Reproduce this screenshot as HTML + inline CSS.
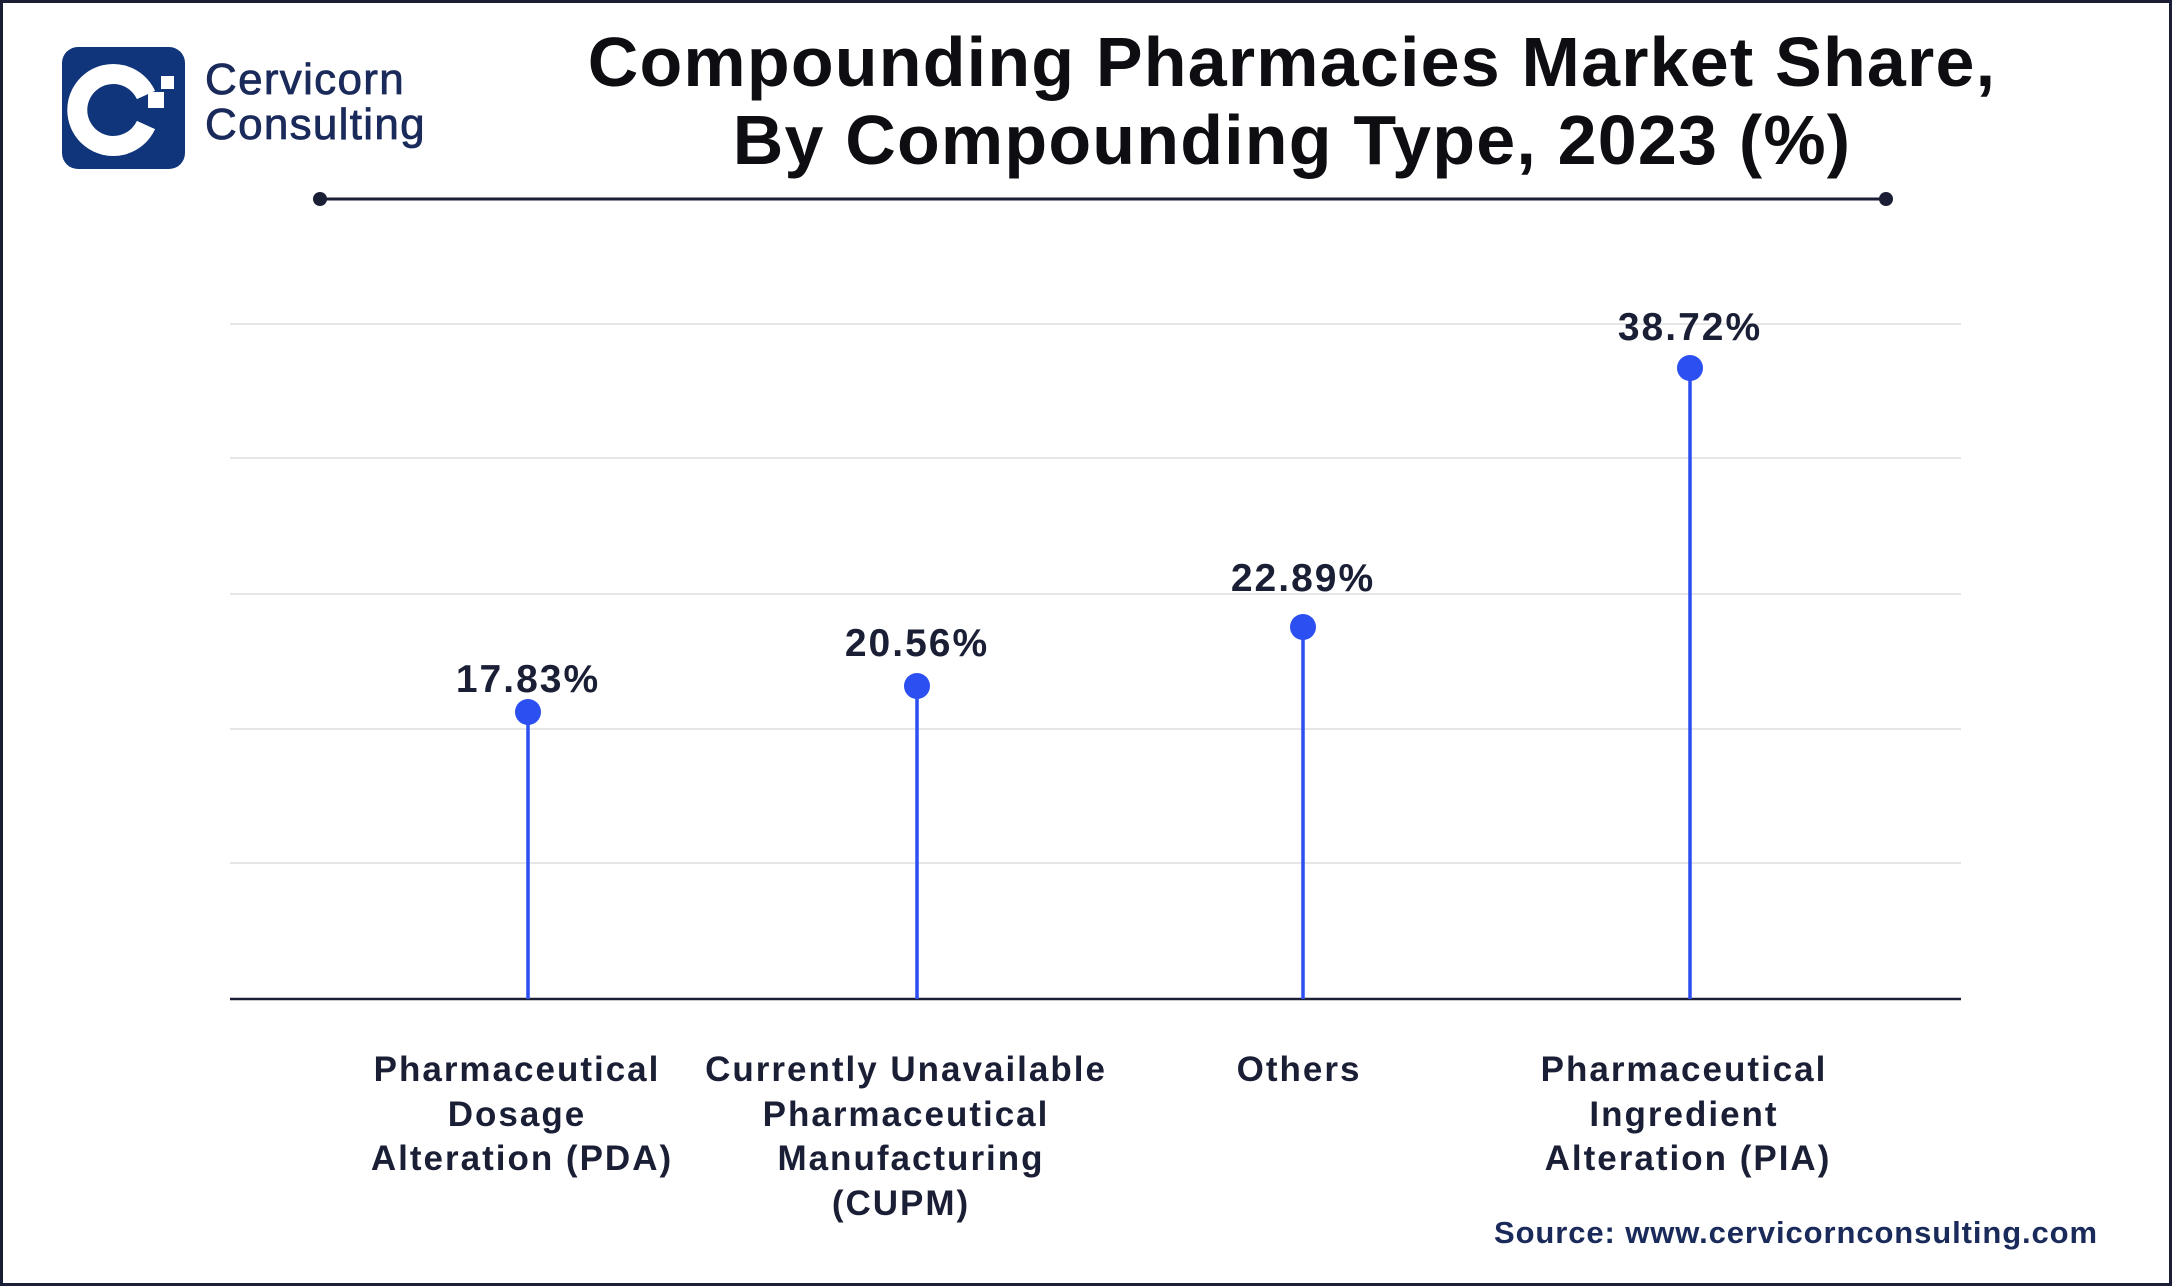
<!DOCTYPE html>
<html><head><meta charset="utf-8"><style>
html,body{margin:0;padding:0;background:#fff;}
svg{display:block;}
text{font-family:"Liberation Sans",sans-serif;}
</style></head><body>
<svg width="2172" height="1286" viewBox="0 0 2172 1286" xmlns="http://www.w3.org/2000/svg">
<rect x="1.5" y="1.5" width="2169" height="1283" fill="#fff" stroke="#1a1f36" stroke-width="3"/>
<!-- logo -->
<rect x="62" y="47" width="123" height="122" rx="16" fill="#11357a"/>
<path d="M146 95 A36 36 0 1 0 146 125" fill="none" stroke="#fff" stroke-width="20"/>
<rect x="148" y="92" width="16" height="16" fill="#fff"/>
<rect x="161" y="76" width="13" height="13" fill="#fff"/>
<text x="205" y="94" font-size="44" fill="#1a2a5a" stroke="#1a2a5a" stroke-width="0.8" letter-spacing="1.3">Cervicorn</text>
<text x="205" y="139" font-size="44" fill="#1a2a5a" stroke="#1a2a5a" stroke-width="0.8" letter-spacing="1.3">Consulting</text>
<!-- title -->
<text x="1292" y="86" font-size="70" font-weight="bold" fill="#0d0d12" text-anchor="middle" letter-spacing="1.2">Compounding Pharmacies Market Share,</text>
<text x="1292" y="164" font-size="70" font-weight="bold" fill="#0d0d12" text-anchor="middle" letter-spacing="1.2">By Compounding Type, 2023 (%)</text>
<line x1="320" y1="199" x2="1886" y2="199" stroke="#1a1f36" stroke-width="3"/>
<circle cx="320" cy="199" r="7" fill="#1a1f36"/>
<circle cx="1886" cy="199" r="7" fill="#1a1f36"/>
<!-- grid -->
<g stroke="#e6e6e6" stroke-width="2">
<line x1="230" y1="324" x2="1961" y2="324"/>
<line x1="230" y1="458" x2="1961" y2="458"/>
<line x1="230" y1="594" x2="1961" y2="594"/>
<line x1="230" y1="729" x2="1961" y2="729"/>
<line x1="230" y1="863" x2="1961" y2="863"/>
</g>
<line x1="230" y1="999" x2="1961" y2="999" stroke="#1a1f36" stroke-width="2.5"/>
<!-- stems -->
<g stroke="#2b4ff0" stroke-width="3.5">
<line x1="528" y1="712" x2="528" y2="999"/>
<line x1="917" y1="686" x2="917" y2="999"/>
<line x1="1303" y1="627" x2="1303" y2="999"/>
<line x1="1690" y1="368" x2="1690" y2="999"/>
</g>
<g fill="#2b4ff0">
<circle cx="528" cy="712" r="13"/>
<circle cx="917" cy="686" r="13"/>
<circle cx="1303" cy="627" r="13"/>
<circle cx="1690" cy="368" r="13"/>
</g>
<g font-size="39" font-weight="bold" fill="#1a1f36" text-anchor="middle" letter-spacing="2">
<text x="528" y="692">17.83%</text>
<text x="917" y="656">20.56%</text>
<text x="1303" y="591">22.89%</text>
<text x="1690" y="340">38.72%</text>
</g>
<g font-size="35" font-weight="bold" fill="#1a1f36" text-anchor="middle" letter-spacing="2">
<text x="517" y="1081">Pharmaceutical</text>
<text x="517" y="1126">Dosage</text>
<text x="522" y="1170">Alteration (PDA)</text>
<text x="906" y="1081">Currently Unavailable</text>
<text x="906" y="1126">Pharmaceutical</text>
<text x="911" y="1170">Manufacturing</text>
<text x="901" y="1215">(CUPM)</text>
<text x="1299" y="1081">Others</text>
<text x="1684" y="1081">Pharmaceutical</text>
<text x="1684" y="1126">Ingredient</text>
<text x="1688" y="1170">Alteration (PIA)</text>
</g>
<text x="2098" y="1243" font-size="31" font-weight="bold" fill="#1a2a5a" text-anchor="end" letter-spacing="0.9">Source: www.cervicornconsulting.com</text>
</svg>
</body></html>
